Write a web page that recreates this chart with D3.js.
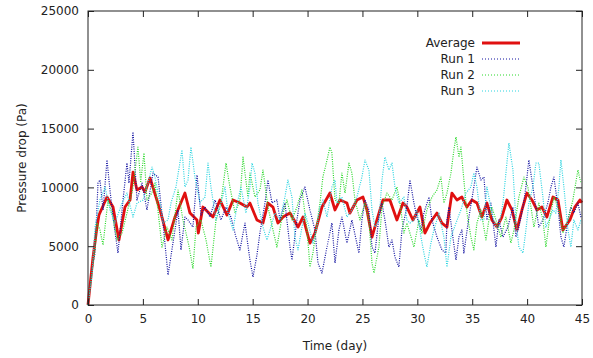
<!DOCTYPE html>
<html>
<head>
<meta charset="utf-8">
<script src="https://cdn.jsdelivr.net/npm/d3@7"></script>
<style>
  body { margin: 0; background: #fff; }
  svg { display: block; font-family: "DejaVu Sans", sans-serif; }
</style>
</head>
<body>
<svg></svg>
<script>
// values (day, Pa)
const avgDay = [0, 0.45, 0.8, 1.0, 1.73, 2.28, 2.82, 3.37, 3.83, 4.1, 4.46, 4.92, 5.19, 5.65, 6.56, 7.29, 7.92, 8.83, 9.29, 9.93, 10.05, 10.47, 11.38, 12.02, 12.66, 13.21, 13.84, 14.48, 14.75, 15.39, 15.94, 16.39, 16.85, 17.3, 17.76, 18.4, 19.13, 19.58, 20.22, 20.67, 21.31, 22.04, 22.5, 22.95, 23.59, 23.86, 24.5, 25.05, 25.41, 25.87, 26.32, 26.87, 27.5, 28.14, 28.69, 29.05, 29.6, 30.24, 30.69, 31.15, 31.79, 32.24, 32.7, 33.15, 33.61, 34.06, 34.52, 34.97, 35.43, 35.88, 36.34, 36.79, 37.25, 37.7, 38.16, 38.62, 39.07, 39.53, 39.98, 40.44, 40.89, 41.35, 41.8, 42.35, 42.81, 43.26, 43.9, 44.35, 44.81, 45];
const avgVal = [0, 4000, 6500, 7650, 9180, 8330, 5530, 8330, 8930, 11300, 9780, 10030, 9600, 10800, 8080, 5530, 7480, 9520, 7820, 7230, 6120, 8330, 7480, 8930, 7650, 8930, 8670, 8330, 8670, 7230, 6970, 8670, 8330, 6970, 7480, 7820, 6630, 7480, 5270, 6120, 8330, 9520, 8080, 8930, 8670, 7820, 8930, 9180, 8080, 5780, 7230, 8930, 8930, 7230, 8670, 8330, 7230, 8330, 6120, 6970, 7820, 6970, 6630, 9520, 8930, 9180, 8330, 8930, 8670, 7480, 8670, 7230, 6630, 7480, 8930, 8080, 6380, 8080, 9520, 8930, 8080, 8330, 7480, 9180, 8930, 6380, 7230, 8330, 8930, 8700];

const run1Day = [0, 0.36, 0.64, 0.91, 1.09, 1.37, 1.73, 2.0, 2.28, 2.73, 3.19, 3.55, 3.73, 4.1, 4.46, 4.92, 5.37, 5.92, 6.38, 6.83, 7.29, 7.74, 8.2, 8.47, 8.83, 9.11, 9.56, 9.93, 10.29, 10.66, 11.11, 11.57, 12.11, 12.57, 13.02, 13.48, 13.84, 14.3, 14.75, 15.03, 15.39, 15.66, 16.12, 16.39, 16.76, 17.21, 17.49, 17.94, 18.4, 18.58, 19.03, 19.31, 19.76, 20.22, 20.67, 20.95, 21.31, 21.77, 22.22, 22.5, 22.86, 23.13, 23.59, 24.04, 24.68, 24.95, 25.23, 25.59, 25.87, 26.14, 26.5, 26.78, 27.05, 27.41, 27.69, 27.96, 28.32, 28.6, 29.05, 29.33, 29.69, 29.96, 30.33, 30.6, 31.06, 31.33, 31.79, 32.24, 32.6, 32.7, 32.88, 33.15, 33.52, 33.79, 34.06, 34.24, 34.7, 35.15, 35.43, 35.79, 36.07, 36.34, 36.7, 37.16, 37.43, 37.8, 38.25, 38.71, 38.98, 39.25, 39.62, 39.89, 40.16, 40.53, 40.8, 41.07, 41.44, 41.89, 42.17, 42.44, 42.81, 43.08, 43.35, 43.72, 43.99, 44.26, 44.63, 44.9];
const run1Val = [0, 2980, 4420, 10370, 10630, 8080, 12330, 9780, 7480, 4420, 8930, 12070, 10370, 14710, 8930, 10370, 8080, 11220, 10880, 6970, 2550, 5270, 8080, 4680, 7480, 7230, 6630, 11050, 7650, 8330, 7480, 8930, 7230, 8330, 7480, 5780, 4680, 6970, 3830, 2380, 4250, 6120, 8670, 10630, 8670, 8930, 7230, 8670, 4930, 3830, 7230, 8930, 10030, 8080, 6380, 3570, 2720, 4930, 6970, 3570, 6380, 7480, 5270, 7230, 4420, 7230, 8930, 8080, 4930, 4420, 7480, 8670, 7230, 4930, 5530, 4080, 3230, 6380, 8330, 10630, 8670, 7480, 6380, 7820, 9180, 7230, 5780, 4680, 4420, 7230, 8330, 6380, 3830, 5780, 6380, 4420, 7480, 10030, 11730, 10630, 10880, 7230, 8670, 4930, 7230, 5780, 6630, 8330, 5780, 6630, 8330, 10030, 12330, 10030, 8330, 6630, 7230, 8670, 10030, 10880, 8330, 5780, 4930, 7230, 8330, 7820, 8670, 7480];

const run2Day = [0, 0.36, 0.64, 0.82, 1.09, 1.37, 1.82, 2.19, 2.64, 3.1, 3.55, 4.1, 4.55, 4.8, 5.1, 5.37, 5.8, 6.1, 6.74, 7.19, 7.65, 8.2, 8.65, 9.2, 9.56, 9.84, 10.29, 10.75, 11.2, 11.66, 12.11, 12.57, 12.93, 13.39, 13.84, 14.12, 14.57, 14.75, 15.21, 15.66, 15.94, 16.39, 16.85, 17.21, 17.67, 18.12, 18.58, 19.03, 19.49, 19.95, 20.22, 20.49, 20.86, 21.13, 21.4, 21.77, 22.04, 22.22, 22.5, 22.86, 23.13, 23.41, 23.77, 24.04, 24.32, 24.77, 25.23, 25.59, 25.87, 26.05, 26.5, 26.78, 27.23, 27.69, 28.14, 28.42, 28.78, 29.05, 29.51, 29.69, 30.15, 30.42, 30.87, 31.33, 31.79, 32.15, 32.42, 32.7, 33.06, 33.33, 33.52, 33.79, 33.97, 34.24, 34.52, 34.88, 35.15, 35.43, 35.79, 36.25, 36.52, 36.79, 37.16, 37.61, 38.07, 38.52, 38.8, 39.25, 39.71, 40.07, 40.35, 40.62, 41.07, 41.44, 41.71, 41.99, 42.44, 42.9, 43.26, 43.72, 44.17, 44.63, 44.9];
const run2Val = [0, 2800, 4800, 6970, 6380, 5100, 8930, 7820, 5530, 6120, 7820, 10000, 13430, 10500, 12920, 8930, 9500, 10370, 4930, 6630, 5530, 9780, 7230, 5000, 3100, 6630, 7230, 5530, 3230, 7230, 8670, 12070, 10030, 7820, 8930, 12580, 9200, 11220, 9180, 9780, 11480, 8330, 6380, 4930, 7480, 8930, 7230, 8330, 9780, 6380, 3230, 4420, 6970, 8670, 10880, 12330, 13430, 12920, 8930, 8670, 11220, 9520, 12070, 11220, 8930, 7230, 8670, 7230, 3570, 2720, 4930, 8330, 9520, 8930, 10030, 8670, 6120, 6970, 5530, 4930, 7230, 6120, 8080, 9180, 9780, 10880, 8670, 9520, 11220, 13180, 14290, 12580, 13430, 10630, 7820, 5780, 4680, 6970, 8080, 5530, 7230, 8330, 7230, 5780, 7480, 5270, 6380, 9180, 10880, 10030, 8330, 6630, 8670, 7230, 4930, 6970, 9180, 8080, 6120, 7230, 8930, 11480, 10370];

const run3Day = [0, 0.36, 0.64, 1.09, 1.55, 2.0, 2.46, 3.1, 3.55, 4.1, 4.46, 5.01, 5.46, 5.83, 6.1, 6.56, 6.83, 7.29, 7.56, 8.01, 8.56, 8.83, 9.11, 9.38, 9.74, 10.2, 10.66, 10.93, 11.2, 11.66, 12.11, 12.48, 12.75, 13.21, 13.66, 13.93, 14.39, 14.75, 14.94, 15.21, 15.48, 15.94, 16.3, 16.58, 17.03, 17.49, 17.94, 18.21, 18.58, 18.85, 19.13, 19.49, 19.76, 20.04, 20.49, 20.86, 21.13, 21.4, 21.77, 22.22, 22.5, 22.68, 23.13, 23.59, 24.04, 24.5, 24.95, 25.23, 25.59, 25.87, 26.14, 26.5, 26.78, 27.05, 27.41, 27.69, 27.96, 28.32, 28.78, 29.05, 29.33, 29.69, 29.96, 30.33, 30.6, 30.87, 31.24, 31.51, 31.97, 32.42, 32.7, 33.06, 33.52, 33.97, 34.43, 34.88, 35.15, 35.43, 35.79, 36.07, 36.34, 36.79, 37.16, 37.43, 37.8, 38.07, 38.34, 38.71, 38.98, 39.25, 39.62, 39.89, 40.16, 40.53, 40.8, 41.07, 41.44, 41.71, 41.99, 42.35, 42.62, 42.9, 43.08, 43.35, 43.72, 43.99, 44.26, 44.63, 44.9];
const run3Val = [0, 2500, 6630, 8930, 10030, 8080, 6970, 8670, 9520, 7480, 8670, 8930, 10370, 11730, 10880, 8670, 6970, 7230, 8670, 10030, 13180, 10030, 10630, 13430, 10880, 8700, 9180, 12070, 10030, 7230, 8670, 10030, 7820, 6380, 8930, 10030, 7820, 10030, 12070, 11220, 8670, 6630, 5530, 6380, 7820, 7230, 9180, 10630, 9180, 5780, 4680, 6630, 7820, 6970, 5270, 6630, 8330, 8930, 7480, 10030, 10630, 8670, 9180, 7480, 8080, 9180, 10880, 12330, 11480, 8080, 6630, 7230, 10630, 12580, 11480, 12070, 10030, 8670, 9180, 7230, 6970, 7230, 8080, 5780, 4420, 3230, 5270, 6380, 7820, 5780, 3230, 5780, 6970, 8080, 9520, 10030, 11220, 10030, 7230, 7230, 10030, 7820, 6630, 6630, 8670, 11220, 13770, 11480, 7230, 4930, 4420, 6380, 8670, 10030, 12070, 12070, 9180, 6630, 7230, 8080, 7820, 10030, 12330, 10030, 6380, 4930, 7230, 6380, 7230];

const xTicks = [0, 5, 10, 15, 20, 25, 30, 35, 40, 45];
const yTicks = [0, 5000, 10000, 15000, 20000, 25000];

const seriesNames = ['Average', 'Run 1', 'Run 2', 'Run 3'];

const w = 593;
const h = 358;
const padL = 88, padR = 582, padT = 11, padB = 305;

const svg = d3.select('svg').attr('width', w).attr('height', h);

const xScale = d3.scaleLinear().domain([0, 45]).range([padL, padR]);
const yScale = d3.scaleLinear().domain([0, 25000]).range([padB, padT]);

const styles = [
    { color: '#e01010', width: 2.8, dash: null },
    { color: '#1010a0', width: 1.2, dash: '1,1.3' },
    { color: '#2ad82a', width: 1.2, dash: '1,1.3' },
    { color: '#2ad4e0', width: 1.2, dash: '1,1.3' }
];

const series = [
    d3.zip(avgDay, avgVal),
    d3.zip(run1Day, run1Val),
    d3.zip(run2Day, run2Val),
    d3.zip(run3Day, run3Val)
];

const line = d3.line()
    .x(d => xScale(d[0]))
    .y(d => yScale(d[1]));

//axes: ticks point inward and repeat on the opposite sides
const drawAxes = () => {
    const tickLen = 6;
    svg.append('g')
        .attr('transform', 'translate(0,' + padB + ')')
        .call(d3.axisBottom(xScale).tickValues(xTicks).tickSize(-tickLen).tickPadding(9).tickFormat(d3.format('d')));
    svg.append('g')
        .attr('transform', 'translate(0,' + padT + ')')
        .call(d3.axisTop(xScale).tickValues(xTicks).tickSize(-tickLen).tickFormat(''));
    svg.append('g')
        .attr('transform', 'translate(' + padL + ',0)')
        .call(d3.axisLeft(yScale).tickValues(yTicks).tickSize(-tickLen).tickPadding(9).tickFormat(d3.format('d')));
    svg.append('g')
        .attr('transform', 'translate(' + padR + ',0)')
        .call(d3.axisRight(yScale).tickValues(yTicks).tickSize(-tickLen).tickFormat(''));

    svg.selectAll('.domain').remove();
    svg.selectAll('.tick line').attr('stroke', '#222');
    svg.selectAll('.tick text').attr('fill', '#222').style('font-size', '12px').style('font-family', '"DejaVu Sans", sans-serif');

    svg.append('rect')
        .attr('x', padL).attr('y', padT)
        .attr('width', padR - padL).attr('height', padB - padT)
        .attr('fill', 'none').attr('stroke', '#222').attr('stroke-width', 1);

    svg.append('text')
        .attr('x', (padL + padR) / 2)
        .attr('y', 350)
        .attr('text-anchor', 'middle')
        .attr('fill', '#222')
        .style('font-size', '12px')
        .text('Time (day)');

    svg.append('text')
        .attr('transform', 'translate(26,' + (padT + padB) / 2 + ') rotate(-90)')
        .attr('text-anchor', 'middle')
        .attr('fill', '#222')
        .style('font-size', '12px')
        .text('Pressure drop (Pa)');
}

const drawLines = () => {
    svg.append('g')
        .selectAll('path')
        .data(series)
        .enter()
        .append('path')
        .attr('d', line)
        .attr('fill', 'none')
        .attr('stroke', (d, i) => styles[i].color)
        .attr('stroke-width', (d, i) => styles[i].width)
        .attr('stroke-dasharray', (d, i) => styles[i].dash)
        .attr('stroke-linejoin', 'round');
}

const drawLegend = () => {
    const legend = svg.append('g');
    seriesNames.forEach((name, i) => {
        const y = 43 + i * 16;
        legend.append('text')
            .attr('x', 475)
            .attr('y', y + 4)
            .attr('text-anchor', 'end')
            .attr('fill', '#222')
            .style('font-size', '12px')
            .text(name);
        legend.append('line')
            .attr('x1', 482).attr('x2', 520)
            .attr('y1', y).attr('y2', y)
            .attr('stroke', styles[i].color)
            .attr('stroke-width', i === 0 ? styles[i].width : 1)
            .attr('stroke-dasharray', i === 0 ? null : '1,2');
    });
}

drawLines()
drawAxes()
drawLegend()
</script>
</body>
</html>
